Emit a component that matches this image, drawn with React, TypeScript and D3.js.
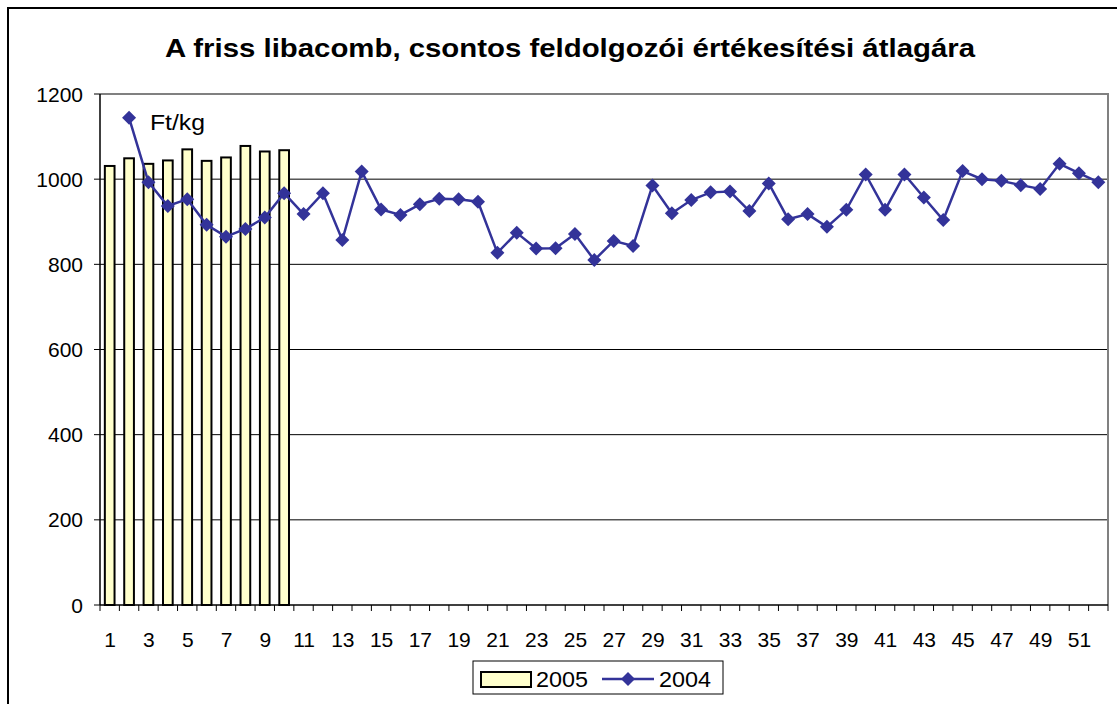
import React from "react";
import * as d3 from "d3";

const title = "A friss libacomb, csontos feldolgozói értékesítési átlagára";
const unitLabel = "Ft/kg";
const weeks = d3.range(1, 53);
const yTicks = [0, 200, 400, 600, 800, 1000, 1200];

// 2005: weeks 1-10 (bars)
const values2005 = [1031, 1049, 1036, 1044, 1070, 1043, 1051, 1078, 1065, 1068];
// 2004: weeks 2-52 (line)
const weeks2004 = d3.range(2, 53);
const values2004 = [
  1144, 993, 937, 953, 893, 865, 883, 910, 967, 918, 967, 857, 1018, 929, 916,
  941, 954, 953, 947, 827, 874, 837, 838, 871, 810, 855, 843, 985, 920, 951,
  969, 971, 925, 990, 906, 918, 888, 928, 1011, 928, 1011, 957, 904, 1019, 1000,
  996, 986, 977, 1036, 1014, 993,
];

const W = 1117;
const H = 704;
const m = { left: 100, right: 1108, top: 94, bottom: 605 };
const font = "Arial, 'Liberation Sans', sans-serif";
const lineColor = "#333399";

const diamond = (cx: number, cy: number, r: number) =>
  `M${cx},${cy - r}L${cx + r},${cy}L${cx},${cy + r}L${cx - r},${cy}Z`;

export default function App() {
  const x = d3
    .scaleBand<number>()
    .domain(weeks)
    .range([m.left, m.right]);
  const step = x.step();
  const xc = (w: number) => (x(w) ?? 0) + step / 2;
  const y = d3.scaleLinear().domain([0, 1200]).range([m.bottom, m.top]);
  const barW = step * 0.5;

  const line = d3
    .line<number>()
    .x((_, i) => xc(weeks2004[i]))
    .y((d) => y(d));

  return (
    <svg
      width={W}
      height={H}
      style={{ position: "absolute", left: 0, top: 0, background: "#fff" }}
      fontFamily={font}
    >
      <rect x={0} y={0} width={W} height={H} fill="#fff" />
      {/* outer frame */}
      <path d={`M8,${H + 5}V8H${W + 5}`} fill="none" stroke="#000" strokeWidth={2} />

      <text
        x={570}
        y={57}
        textAnchor="middle"
        fontSize={26}
        fontWeight="bold"
        textLength={810}
        lengthAdjust="spacingAndGlyphs"
      >
        {title}
      </text>

      {/* gridlines */}
      {yTicks
        .filter((t) => t > 0 && t < 1200)
        .map((t) => (
          <line key={t} x1={m.left} x2={m.right} y1={y(t)} y2={y(t)} stroke="#000" strokeWidth={1} />
        ))}

      {/* plot area border top/right */}
      <path
        d={`M${m.left},${m.top}H${m.right}V${m.bottom}`}
        fill="none"
        stroke="#808080"
        strokeWidth={2}
      />

      {/* bars 2005 */}
      {values2005.map((v, i) => (
        <rect
          key={i}
          x={xc(i + 1) - barW / 2}
          y={y(v)}
          width={barW}
          height={y(0) - y(v)}
          fill="#FFFFCC"
          stroke="#000"
          strokeWidth={2}
        />
      ))}

      {/* axes */}
      <line x1={m.left} x2={m.left} y1={m.top} y2={m.bottom} stroke="#000" strokeWidth={1.5} />
      <line x1={m.left} x2={m.right} y1={m.bottom} y2={m.bottom} stroke="#000" strokeWidth={1.5} />
      {yTicks.map((t) => (
        <g key={t}>
          <line x1={m.left - 6} x2={m.left} y1={y(t)} y2={y(t)} stroke="#000" />
          <text x={83} y={y(t)} dy="0.36em" textAnchor="end" fontSize={21}>
            {t}
          </text>
        </g>
      ))}
      {d3.range(0, weeks.length + 1).map((i) => (
        <line
          key={i}
          x1={m.left + step * i}
          x2={m.left + step * i}
          y1={m.bottom}
          y2={m.bottom + 6}
          stroke="#000"
        />
      ))}
      {weeks
        .filter((w) => w % 2 === 1)
        .map((w) => (
          <text key={w} x={xc(w) + 0.5} y={647} textAnchor="middle" fontSize={21}>
            {w}
          </text>
        ))}

      {/* line 2004 */}
      <path d={line(values2004) || ""} fill="none" stroke={lineColor} strokeWidth={2.5} />
      {values2004.map((v, i) => (
        <path key={i} d={diamond(xc(weeks2004[i]), y(v), 7)} fill={lineColor} />
      ))}

      <text x={150} y={130} fontSize={22} textLength={55} lengthAdjust="spacingAndGlyphs">
        {unitLabel}
      </text>

      {/* legend */}
      <rect x={473} y={661} width={250} height={33} fill="#fff" stroke="#000" strokeWidth={1} />
      <rect x={481} y={672} width={50} height={15} fill="#FFFFCC" stroke="#000" strokeWidth={2} />
      <text x={536} y={687} fontSize={22} textLength={52} lengthAdjust="spacingAndGlyphs">
        2005
      </text>
      <line x1={602} x2={654} y1={679} y2={679} stroke={lineColor} strokeWidth={2.5} />
      <path d={diamond(628, 679, 7)} fill={lineColor} />
      <text x={659} y={687} fontSize={22} textLength={52} lengthAdjust="spacingAndGlyphs">
        2004
      </text>
    </svg>
  );
}
